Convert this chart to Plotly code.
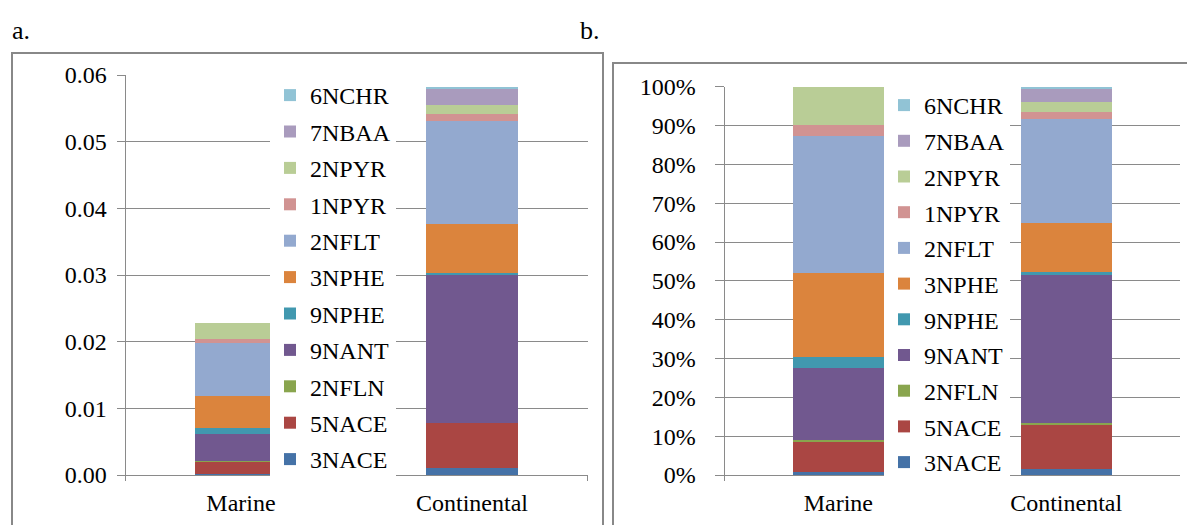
import plotly.graph_objects as go

W, H = 1187, 525

categories = ["Marine", "Continental"]
series = ["3NACE", "5NACE", "2NFLN", "9NANT", "9NPHE", "3NPHE",
          "2NFLT", "1NPYR", "2NPYR", "7NBAA", "6NCHR"]
colors = ["#4572A7", "#AA4643", "#89A54E", "#71588F", "#4198AF", "#DB843D",
          "#93A9CF", "#D19392", "#B9CD96", "#A99BBD", "#91C3D5"]

# panel a: concentrations
conc_marine = [0.0002, 0.0018, 0.0001, 0.0041, 0.0008, 0.00485,
               0.0080, 0.0006, 0.0023, 0.0, 0.0]
conc_continental = [0.00105, 0.00675, 0.00005, 0.0221, 0.00035, 0.0074,
                    0.01535, 0.0011, 0.0013, 0.0025, 0.0002]
# panel b: percentages
pct_marine = [0.7, 8.1, 0.3, 18.5, 2.7, 21.7, 35.4, 2.8, 9.8, 0.0, 0.0]
pct_continental = [1.5, 11.7, 0.1, 38.5, 0.4, 12.7, 26.8, 1.9, 2.4, 3.7, 0.3]

FONT = "Liberation Serif, DejaVu Serif, Noto Serif, serif"
GRID = "#8a8a8a"

fig = go.Figure()
for i, name in enumerate(series):
    fig.add_trace(go.Bar(
        x=categories, y=[conc_marine[i], conc_continental[i]], name=name,
        marker=dict(color=colors[i], line=dict(width=0)),
        xaxis="x", yaxis="y", legend="legend",
        legendgroup="a" + name, legendrank=100 - i))
for i, name in enumerate(series):
    fig.add_trace(go.Bar(
        x=categories, y=[pct_marine[i], pct_continental[i]], name=name,
        marker=dict(color=colors[i], line=dict(width=0)),
        xaxis="x2", yaxis="y2", legend="legend2",
        legendgroup="b" + name, legendrank=100 - i))

def px(x):
    return x / W

def py(y):
    return 1 - y / H

axis_common = dict(showline=True, linecolor=GRID, linewidth=1,
                   tickfont=dict(family=FONT, size=24, color="black"))

fig.update_layout(
    width=W, height=H,
    margin=dict(l=0, r=0, t=0, b=0, autoexpand=False),
    paper_bgcolor="white", plot_bgcolor="white",
    barmode="stack", bargap=0.6,
    font=dict(family=FONT, size=24, color="black"),
    xaxis=dict(domain=[px(125.5), px(587.5)], anchor="y", automargin=False,
               ticks="outside", tickson="boundaries", ticklen=5, tickcolor=GRID,
               ticklabelstandoff=6, **axis_common),
    yaxis=dict(domain=[py(475), py(75)], anchor="x", range=[0, 0.06],
               automargin=False,
               dtick=0.01, tickformat=".2f", showgrid=True, gridcolor=GRID,
               gridwidth=1, ticks="outside", ticklen=8, tickcolor=GRID,
               ticklabelstandoff=5, zeroline=False, **axis_common),
    xaxis2=dict(domain=[px(724.5), px(1180)], anchor="y2", automargin=False,
                ticks="outside", tickson="boundaries", ticklen=5, tickcolor=GRID,
                ticklabelstandoff=6, **axis_common),
    yaxis2=dict(domain=[py(475), py(86.7)], anchor="x2", range=[0, 100],
                automargin=False,
                dtick=10, ticksuffix="%", showgrid=True, gridcolor=GRID,
                gridwidth=1, ticks="outside", ticklen=9, tickcolor=GRID,
                ticklabelstandoff=14, zeroline=False, **axis_common),
    legend=dict(x=px(270), y=py(73), xanchor="left", yanchor="top",
                bgcolor="white", borderwidth=0, traceorder="grouped",
                tracegroupgap=2.2,
                font=dict(family=FONT, size=24, color="black")),
    legend2=dict(x=px(884), y=py(83), xanchor="left", yanchor="top",
                 bgcolor="white", borderwidth=0, traceorder="grouped",
                 tracegroupgap=1.5,
                 font=dict(family=FONT, size=24, color="black")),
    shapes=[
        dict(type="rect", xref="paper", yref="paper",
             x0=px(12), x1=px(603), y0=py(540), y1=py(53),
             line=dict(color="#888888", width=2), fillcolor="rgba(0,0,0,0)",
             layer="below"),
        dict(type="rect", xref="paper", yref="paper",
             x0=px(613), x1=px(1195), y0=py(540), y1=py(63),
             line=dict(color="#888888", width=2), fillcolor="rgba(0,0,0,0)",
             layer="below"),
    ],
    annotations=[
        dict(text="a.", x=px(10), y=py(30), xref="paper", yref="paper",
             xanchor="left", yanchor="middle", showarrow=False,
             font=dict(family=FONT, size=26, color="black")),
        dict(text="b.", x=px(578), y=py(30), xref="paper", yref="paper",
             xanchor="left", yanchor="middle", showarrow=False,
             font=dict(family=FONT, size=26, color="black")),
    ],
)

fig.write_html("out.html")
